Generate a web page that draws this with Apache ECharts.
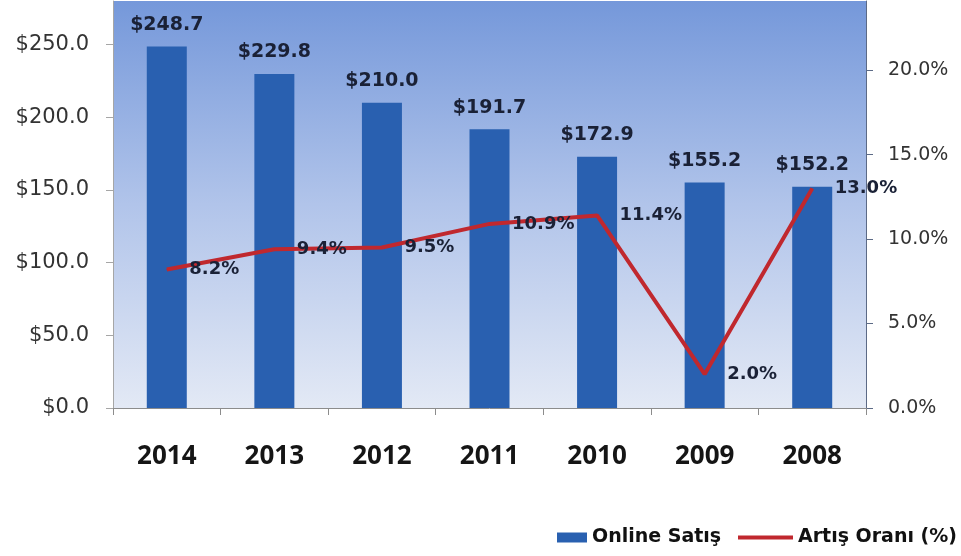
<!DOCTYPE html>
<html>
<head>
<meta charset="utf-8">
<script src="https://cdn.jsdelivr.net/npm/echarts@6/dist/echarts.min.js"></script>
<style>
  html, body { margin: 0; padding: 0; background: #ffffff; }
  #chart { width: 961px; height: 556px; }
</style>
</head>
<body>
<div id="chart"></div>
<script>
// Yearly online sales (in billions) and growth rate
const years = ['2014', '2013', '2012', '2011', '2010', '2009', '2008'];
const salesValues = [248.7, 229.8, 210.0, 191.7, 172.9, 155.2, 152.2];
const growthValues = [8.2, 9.4, 9.5, 10.9, 11.4, 2.0, 13.0];
const salesName = 'Online Satış';
const growthName = 'Artış Oranı (%)';

const labelColor = '#1a2136';
const lineColor = '#c0282e';
const chart = echarts.init(document.getElementById('chart'), null, { renderer: 'canvas' });

chart.setOption({
  backgroundColor: '#ffffff',
  animation: false,
  grid: {
    left: 113, right: 95, top: 1, bottom: 148,
    show: true,
    borderWidth: 0,
    backgroundColor: new echarts.graphic.LinearGradient(0, 0, 0, 1, [
      { offset: 0, color: '#7598da' },
      { offset: 0.5, color: '#b1c4ea' },
      { offset: 1, color: '#e3e9f5' }
    ])
  },
  legend: [
    {
      data: [salesName],
      left: 552, top: 523,
      itemWidth: 30, itemHeight: 10,
      icon: 'rect',
      textStyle: { fontFamily: 'DejaVu Sans', fontWeight: 'bold', fontSize: 19, color: '#111111' }
    },
    {
      data: [growthName],
      left: 733, top: 523,
      itemWidth: 55, itemHeight: 4,
      icon: 'rect',
      textStyle: { fontFamily: 'DejaVu Sans', fontWeight: 'bold', fontSize: 19, color: '#111111' }
    }
  ],
  xAxis: {
    type: 'category',
    data: years,
    boundaryGap: true,
    axisLine: { lineStyle: { color: '#8c8c8c', width: 1 } },
    axisTick: { show: true, length: 7, lineStyle: { color: '#8c8c8c' } },
    axisLabel: {
      margin: 36,
      fontFamily: 'Open Sans', fontWeight: 'bold', fontSize: 26, color: '#151515'
    },
    splitLine: { show: false }
  },
  yAxis: [
    {
      type: 'value',
      min: 0, max: 280, interval: 50,
      axisLine: { show: true, lineStyle: { color: '#a6a6a6' } },
      axisTick: { show: true, length: 7, lineStyle: { color: '#a6a6a6' } },
      axisLabel: {
        showMaxLabel: false,
        margin: 24,
        fontFamily: 'DejaVu Sans', fontSize: 21, color: '#333333',
        formatter: v => '$' + v.toFixed(1)
      },
      splitLine: { show: false }
    },
    {
      type: 'value',
      min: 0, max: 24.1, interval: 5,
      position: 'right',
      axisLine: { show: true, lineStyle: { color: '#5c6a86' } },
      axisTick: { show: true, length: 7, lineStyle: { color: '#5c6a86' } },
      axisLabel: {
        showMaxLabel: false,
        margin: 22,
        fontFamily: 'DejaVu Sans', fontSize: 19, color: '#333333',
        formatter: v => v.toFixed(1) + '%'
      },
      splitLine: { show: false }
    }
  ],
  series: [
    {
      name: salesName,
      type: 'bar',
      yAxisIndex: 0,
      data: salesValues,
      barWidth: 40,
      itemStyle: { color: '#2960b0' },
      label: {
        show: true,
        position: 'top',
        distance: 12,
        fontFamily: 'DejaVu Sans', fontWeight: 'bold', fontSize: 19, color: labelColor,
        formatter: p => '$' + p.value.toFixed(1)
      },
      z: 2
    },
    {
      name: growthName,
      type: 'line',
      yAxisIndex: 1,
      data: growthValues,
      symbol: 'circle',
      symbolSize: 1,
      showSymbol: true,
      lineStyle: { color: lineColor, width: 4 },
      itemStyle: { color: lineColor },
      label: {
        show: true,
        position: 'right',
        distance: 22,
        offset: [0, 3],
        fontFamily: 'DejaVu Sans', fontWeight: 'bold', fontSize: 18, color: labelColor,
        formatter: p => p.value.toFixed(1) + '%'
      },
      labelLayout: { hideOverlap: false },
      z: 5
    }
  ]
});
</script>
</body>
</html>
